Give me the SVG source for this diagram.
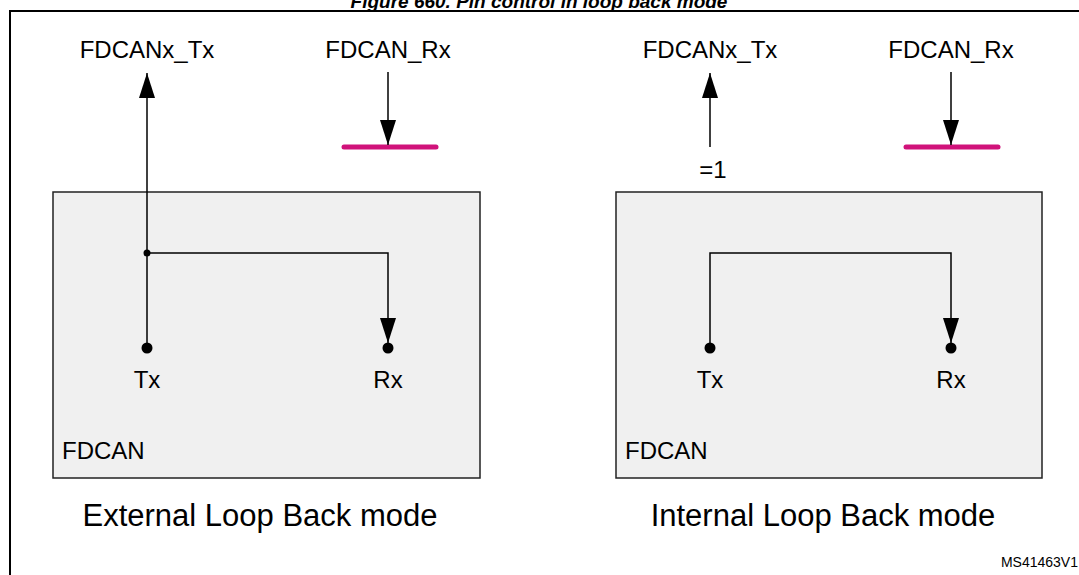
<svg xmlns="http://www.w3.org/2000/svg" width="1079" height="575" viewBox="0 0 1079 575">
<defs>
<marker id="ah" markerWidth="25" markerHeight="16" refX="25" refY="8" orient="auto" markerUnits="userSpaceOnUse" viewBox="0 0 25 16">
<path d="M0,0 L25,8 L0,16 Z" fill="#000"/>
</marker>
<style>
text{font-family:"Liberation Sans",Arial,sans-serif;fill:#000}
.lbl{font-size:24px;text-anchor:middle}
.cap{font-size:31px;text-anchor:middle}
.box{fill:#f0f0f0;stroke:#222;stroke-width:1.5}
.w{fill:none;stroke:#000;stroke-width:1.5}
.bar{stroke:#d0127a;stroke-width:5;stroke-linecap:round}
</style>
</defs>
<rect width="1079" height="575" fill="#fff"/>
<text x="539" y="8" style="font-size:19px;font-weight:bold;font-style:italic" text-anchor="middle">Figure 660. Pin control in loop back mode</text>
<rect x="10" y="11" width="1080" height="570" fill="none" stroke="#000" stroke-width="2"/>
<g id="ext">
<rect class="box" x="53" y="192" width="427" height="286"/>
<text x="62" y="459" style="font-size:24px">FDCAN</text>
<text class="lbl" x="147" y="388">Tx</text>
<text class="lbl" x="388" y="388">Rx</text>
<text class="lbl" x="147" y="58">FDCANx_Tx</text>
<text class="lbl" x="388" y="58">FDCAN_Rx</text>
<line class="bar" x1="344" y1="147" x2="436" y2="147"/>
<text class="cap" x="260" y="526">External Loop Back mode</text>
</g>
<g id="int">
<rect class="box" x="616" y="192" width="426" height="286"/>
<text x="625" y="459" style="font-size:24px">FDCAN</text>
<text class="lbl" x="710" y="388">Tx</text>
<text class="lbl" x="951" y="388">Rx</text>
<text class="lbl" x="710" y="58">FDCANx_Tx</text>
<text class="lbl" x="951" y="58">FDCAN_Rx</text>
<text class="lbl" x="713" y="178">=1</text>
<line class="bar" x1="906" y1="147" x2="998" y2="147"/>
<text class="cap" x="823" y="526">Internal Loop Back mode</text>
</g>
<g id="connectors">
<line class="w" x1="147" y1="348" x2="147" y2="73" marker-end="url(#ah)"/>
<circle cx="147" cy="253" r="3.5"/>
<path class="w" d="M147,253 H388 V343" marker-end="url(#ah)"/>
<circle cx="147" cy="348" r="5.5"/>
<circle cx="388" cy="348" r="5.5"/>
<line class="w" x1="388" y1="72" x2="388" y2="145" marker-end="url(#ah)"/>
<line class="w" x1="710" y1="147" x2="710" y2="73" marker-end="url(#ah)"/>
<path class="w" d="M710,348 V253 H951 V343" marker-end="url(#ah)"/>
<circle cx="710" cy="348" r="5.5"/>
<circle cx="951" cy="348" r="5.5"/>
<line class="w" x1="951" y1="72" x2="951" y2="145" marker-end="url(#ah)"/>
</g>
<text x="1078" y="567" style="font-size:14px" text-anchor="end">MS41463V1</text>
</svg>
